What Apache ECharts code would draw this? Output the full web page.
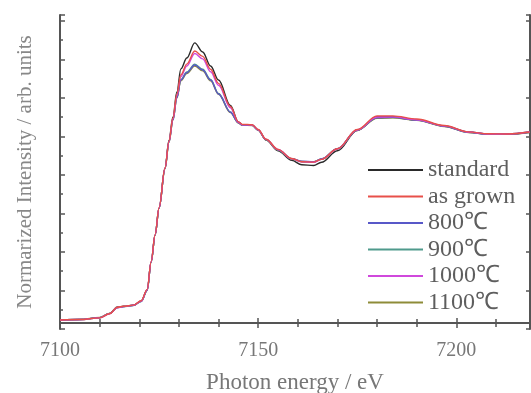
<!DOCTYPE html>
<html><head><meta charset="utf-8">
<script src="https://cdn.jsdelivr.net/npm/echarts@6/dist/echarts.min.js"></script>
<style>html,body{margin:0;padding:0;background:#fff}#c{width:531px;height:393px}</style>
</head><body><div id="c"></div>
<script>
const energies = [7100, 7105, 7110, 7112.5, 7114.5, 7116, 7118.5, 7120.5, 7122, 7123, 7124, 7125, 7126.5, 7127.5, 7128.5, 7129.5, 7130.5, 7132, 7134, 7136, 7138, 7140, 7143, 7145, 7146, 7148.5, 7150, 7152, 7155, 7158.5, 7161, 7164, 7166, 7170, 7175, 7180, 7184, 7190, 7197, 7203, 7208, 7213, 7218.5];
const standard = [0.016, 0.018, 0.028, 0.050, 0.083, 0.086, 0.092, 0.114, 0.171, 0.317, 0.457, 0.597, 0.805, 0.950, 1.070, 1.200, 1.320, 1.377, 1.455, 1.408, 1.335, 1.262, 1.130, 1.045, 1.030, 1.029, 1.003, 0.950, 0.895, 0.845, 0.822, 0.818, 0.835, 0.895, 1.000, 1.072, 1.072, 1.056, 1.024, 0.992, 0.982, 0.982, 0.992];
const asGrown = [0.016, 0.018, 0.027, 0.048, 0.082, 0.087, 0.093, 0.116, 0.175, 0.320, 0.460, 0.600, 0.805, 0.945, 1.065, 1.190, 1.290, 1.345, 1.413, 1.385, 1.318, 1.245, 1.125, 1.045, 1.032, 1.030, 1.005, 0.955, 0.902, 0.855, 0.838, 0.836, 0.850, 0.905, 1.005, 1.076, 1.076, 1.060, 1.026, 0.993, 0.983, 0.982, 0.992];
const c800 = [0.016, 0.018, 0.028, 0.049, 0.080, 0.086, 0.092, 0.113, 0.170, 0.318, 0.458, 0.598, 0.803, 0.940, 1.055, 1.170, 1.262, 1.300, 1.340, 1.314, 1.262, 1.190, 1.095, 1.040, 1.028, 1.027, 1.002, 0.953, 0.900, 0.854, 0.840, 0.838, 0.853, 0.906, 1.003, 1.066, 1.068, 1.054, 1.022, 0.991, 0.981, 0.981, 0.991];
const c900 = [0.016, 0.018, 0.027, 0.049, 0.081, 0.085, 0.091, 0.112, 0.169, 0.316, 0.456, 0.596, 0.802, 0.940, 1.056, 1.172, 1.265, 1.304, 1.345, 1.318, 1.265, 1.192, 1.097, 1.041, 1.028, 1.027, 1.002, 0.952, 0.899, 0.852, 0.838, 0.836, 0.851, 0.904, 1.002, 1.065, 1.067, 1.054, 1.022, 0.991, 0.981, 0.981, 0.991];
const c1000 = [0.016, 0.018, 0.027, 0.048, 0.081, 0.086, 0.092, 0.114, 0.172, 0.318, 0.458, 0.598, 0.804, 0.942, 1.060, 1.180, 1.280, 1.335, 1.400, 1.372, 1.305, 1.235, 1.118, 1.043, 1.030, 1.029, 1.004, 0.954, 0.901, 0.853, 0.837, 0.835, 0.850, 0.904, 1.003, 1.070, 1.071, 1.056, 1.024, 0.992, 0.982, 0.982, 0.992];
const c1100 = [0.017, 0.019, 0.029, 0.050, 0.081, 0.087, 0.093, 0.115, 0.170, 0.316, 0.456, 0.596, 0.801, 0.938, 1.054, 1.168, 1.258, 1.296, 1.335, 1.310, 1.258, 1.188, 1.093, 1.039, 1.027, 1.026, 1.001, 0.952, 0.899, 0.853, 0.839, 0.837, 0.852, 0.905, 1.002, 1.064, 1.066, 1.053, 1.021, 0.990, 0.980, 0.980, 0.990];

const names = ['standard', 'as grown', '800℃', '900℃', '1000℃', '1100℃'];
const colors = {'standard':'#2a2a2a','as grown':'#e8504a','800℃':'#5858c8','900℃':'#4f9a8c','1000℃':'#d048dc','1100℃':'#8e8c38'};
const values = {'standard':standard,'as grown':asGrown,'800℃':c800,'900℃':c900,'1000℃':c1000,'1100℃':c1100};
const drawOrder = ['standard','900℃','1100℃','800℃','1000℃','as grown'];

const axisColor = '#555';
const font = 'Liberation Serif';
const series = drawOrder.map(n => ({
  name: n, type: 'line', showSymbol: false, smooth: 0.35, smoothMonotone: 'x',
  lineStyle: {color: colors[n], width: 1.4}, itemStyle: {color: colors[n]},
  data: energies.map((e, i) => [e, values[n][i]])
}));

const chart = echarts.init(document.getElementById('c'), null, {renderer: 'canvas'});
chart.setOption({
  animation: false,
  grid: {left: 60, right: 1, top: 15, bottom: 64, containLabel: false, outerBoundsMode: 'none'},
  legend: {
    data: names, orient: 'vertical', left: 363, top: 152, itemGap: 0.5,
    itemWidth: 55, itemHeight: 2, icon: 'rect',
    textStyle: {fontFamily: font, fontSize: 24, color: '#5e5e5e', lineHeight: 26, padding: [0,0,0,0]}
  },
  xAxis: [{
    type: 'value', min: 7100, max: 7218.6, interval: 50,
    name: 'Photon energy / eV', nameLocation: 'middle', nameGap: 42,
    nameTextStyle: {fontFamily: font, fontSize: 23, color: '#777'},
    axisLine: {lineStyle: {color: axisColor, width: 2}},
    axisTick: {inside: true, length: 5, lineStyle: {color: axisColor, width: 1.5}},
    minorTick: {show: true, splitNumber: 5, length: 4, lineStyle: {color: axisColor, width: 1.5}},
    axisLabel: {fontFamily: font, fontSize: 20, color: '#777', margin: 12, showMaxLabel: false, formatter: v => String(v)},
    splitLine: {show: false}
  }, {
    type: 'value', position: 'top', min: 7100, max: 7218.6, interval: 50,
    axisLine: {lineStyle: {color: axisColor, width: 2}},
    axisTick: {inside: true, length: 5, lineStyle: {color: axisColor, width: 1.5}},
    minorTick: {show: true, splitNumber: 5, length: 4, lineStyle: {color: axisColor, width: 1.5}},
    axisLabel: {show: false}, splitLine: {show: false}
  }],
  yAxis: [{
    type: 'value', min: -0.031, max: 1.6, interval: 0.2,
    name: 'Normarized Intensity / arb. units', nameLocation: 'middle', nameGap: 24,
    nameTextStyle: {fontFamily: font, fontSize: 21, color: '#888'},
    axisLine: {lineStyle: {color: axisColor, width: 2}},
    axisTick: {inside: true, length: 5, lineStyle: {color: axisColor, width: 1.5}},
    minorTick: {show: true, splitNumber: 2, length: 3, lineStyle: {color: axisColor, width: 1.5}},
    axisLabel: {show: false}, splitLine: {show: false}
  }, {
    type: 'value', position: 'right', min: -0.031, max: 1.6, interval: 0.2,
    axisLine: {lineStyle: {color: axisColor, width: 2}},
    axisTick: {inside: true, length: 4, lineStyle: {color: axisColor, width: 1.5}},
    axisLabel: {show: false}, splitLine: {show: false}
  }],
  series: series
});
</script></body></html>
